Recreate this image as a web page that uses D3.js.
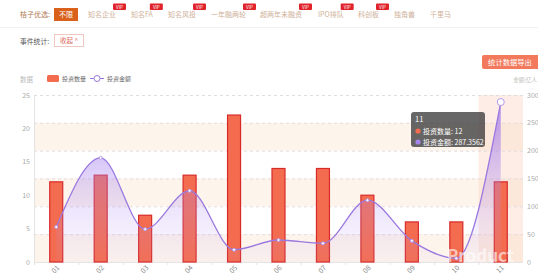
<!DOCTYPE html>
<html>
<head>
<meta charset="utf-8">
<script src="https://cdn.jsdelivr.net/npm/d3@7"></script>
<style>
  body { margin: 0; background: #fff; font-family: "Noto Sans CJK SC", "Noto Sans", sans-serif; }
  svg text { font-family: "Noto Sans CJK SC", "Noto Sans", sans-serif; }
</style>
</head>
<body>
<div id="chart"></div>
<script>
// chart data
const months = ["01", "02", "03", "04", "05", "06", "07", "08", "09", "10", "11"];
const dealCounts = [12, 13, 7, 13, 22, 14, 14, 10, 6, 6, 12];
const dealAmounts = [63, 187, 59, 128, 22, 39.5, 33.5, 111, 38, 6.6, 287.3562];
const leftTicks = [0, 5, 10, 15, 20, 25];
const rightTicks = [0, 50, 100, 150, 200, 250, 300];

// filter bar items
const navItems = ["知名企业", "知名FA", "知名风投", "一年融两轮", "超两年未融资", "IPO排队", "科创板", "独角兽", "千里马"];
const navX = [88, 131, 168, 211, 260, 318, 358, 394, 430];
const navVip = [true, true, true, true, true, true, true, false, false];

const W = 538, H = 279;
const svg = d3.select("#chart").append("svg")
    .attr("width", W)
    .attr("height", H);

// --- top filter bar ---
svg.append("text").attr("x", 20).attr("y", 17)
    .attr("font-size", 7).attr("fill", "#b07c52").text("桔子优选:");
svg.append("rect").attr("x", 54).attr("y", 8).attr("width", 24).attr("height", 13)
    .attr("fill", "#d9611c");
svg.append("text").attr("x", 66).attr("y", 17).attr("text-anchor", "middle")
    .attr("font-size", 7).attr("fill", "#fff").text("不限");

navItems.forEach((t, i) => {
    const txt = svg.append("text").attr("x", navX[i]).attr("y", 17)
        .attr("font-size", 7).attr("fill", "#cfb19a").text(t);
    if (navVip[i]) {
        const w = txt.node().getComputedTextLength();
        const bx = navX[i] + w - 3;
        svg.append("rect").attr("x", bx).attr("y", 3.5).attr("width", 13).attr("height", 6.5)
            .attr("rx", 1).attr("fill", "#e0222a");
        svg.append("text").attr("x", bx + 6.5).attr("y", 8.8).attr("text-anchor", "middle")
            .attr("font-size", 4.5).attr("fill", "#fff").text("VIP");
    }
});

svg.append("line").attr("x1", 0).attr("x2", W).attr("y1", 27.5).attr("y2", 27.5)
    .attr("stroke", "#f0f0f0");

svg.append("text").attr("x", 20).attr("y", 43.5)
    .attr("font-size", 6.8).attr("fill", "#555").text("事件统计:");
svg.append("rect").attr("x", 54.5).attr("y", 34.5).attr("width", 29).attr("height", 12)
    .attr("fill", "#fff").attr("stroke", "#f1c8c0");
svg.append("text").attr("x", 69).attr("y", 43).attr("text-anchor", "middle")
    .attr("font-size", 6.5).attr("fill", "#e0675a").text("收起 ^");

// export button
svg.append("rect").attr("x", 482).attr("y", 55).attr("width", 60).attr("height", 14)
    .attr("rx", 2).attr("fill", "#f2795c");
svg.append("text").attr("x", 510).attr("y", 64.5).attr("text-anchor", "middle")
    .attr("font-size", 7.3).attr("fill", "#fff").text("统计数据导出");

// --- chart ---
const margin = {left: 34, right: 15, top: 95, bottom: 17};
const x0 = margin.left, x1 = W - margin.right;
const yTop = margin.top, yBot = H - margin.bottom;

const x = d3.scaleBand().domain(months).range([x0, x1]);
const yL = d3.scaleLinear().domain([0, 25]).range([yBot, yTop]);
const yR = d3.scaleLinear().domain([0, 300]).range([yBot, yTop]);

// split areas (alternating bands on right axis)
for (let i = 0; i < rightTicks.length - 1; i++) {
    if (i % 2 === 0) {
        svg.append("rect")
            .attr("x", x0).attr("width", x1 - x0)
            .attr("y", yR(rightTicks[i + 1])).attr("height", yR(rightTicks[i]) - yR(rightTicks[i + 1]))
            .attr("fill", "#fdf4ec");
    }
}

// hovered category shadow
svg.append("rect")
    .attr("x", x("11")).attr("width", x.bandwidth())
    .attr("y", yTop).attr("height", yBot - yTop)
    .attr("fill", "rgba(250,215,200,0.45)");

// grid lines
svg.append("g").selectAll("line").data(rightTicks.slice(1)).enter().append("line")
    .attr("x1", x0).attr("x2", x1)
    .attr("y1", d => yR(d) + 0.5).attr("y2", d => yR(d) + 0.5)
    .attr("stroke", "#e2dcdc").attr("stroke-dasharray", "3,3");

// left axis
svg.append("line").attr("x1", x0 + 0.5).attr("x2", x0 + 0.5).attr("y1", yTop).attr("y2", yBot)
    .attr("stroke", "#e4e4e4");
svg.append("g").selectAll("text").data(leftTicks).enter().append("text")
    .attr("x", x0 - 4).attr("y", d => yL(d) + 2.5).attr("text-anchor", "end")
    .attr("font-size", 7).attr("fill", "#aaa").text(d => d);

// right axis labels
svg.append("g").selectAll("text").data(rightTicks).enter().append("text")
    .attr("x", x1 + 4).attr("y", d => yR(d) + 2.5)
    .attr("font-size", 7).attr("fill", "#aaa").text(d => d);

// axis names
svg.append("text").attr("x", 20).attr("y", 82).attr("font-size", 6.5).attr("fill", "#bbb").text("数据");
svg.append("text").attr("x", 537).attr("y", 82).attr("text-anchor", "end")
    .attr("font-size", 5.5).attr("fill", "#bbb").text("金额(亿人");

// bottom axis
svg.append("line").attr("x1", x0).attr("x2", x1).attr("y1", yBot + 0.5).attr("y2", yBot + 0.5)
    .attr("stroke", "#e4e4e4");
svg.append("g").selectAll("line").data(months).enter().append("line")
    .attr("x1", d => x(d) + 0.5).attr("x2", d => x(d) + 0.5)
    .attr("y1", yBot).attr("y2", yBot + 3).attr("stroke", "#e4e4e4");
svg.append("g").selectAll("text").data(months).enter().append("text")
    .attr("transform", d => `translate(${x(d) + x.bandwidth() / 2 + 1},${yBot + 9}) rotate(-45)`)
    .attr("text-anchor", "middle")
    .attr("font-size", 7).attr("fill", "#888").text(d => d);

// bars
const barW = 13;
svg.append("g").selectAll("rect").data(months).enter().append("rect")
    .attr("x", d => x(d) + x.bandwidth() / 2 - barW / 2)
    .attr("width", barW)
    .attr("y", (d, i) => yL(dealCounts[i]))
    .attr("height", (d, i) => yBot - yL(dealCounts[i]))
    .attr("fill", "#f36c4f")
    .attr("stroke", "#d92a2a")
    .attr("stroke-width", 1.2);

// area gradient
const defs = svg.append("defs");
const grad = defs.append("linearGradient").attr("id", "areaGrad")
    .attr("gradientUnits", "userSpaceOnUse")
    .attr("x1", 0).attr("x2", 0).attr("y1", yR(300)).attr("y2", yBot);
grad.append("stop").attr("offset", 0).attr("stop-color", "rgba(150,105,235,0.75)");
grad.append("stop").attr("offset", 0.55).attr("stop-color", "rgba(170,135,240,0.3)");
grad.append("stop").attr("offset", 1).attr("stop-color", "rgba(190,160,245,0.05)");

const pts = months.map((m, i) => [x(m) + x.bandwidth() / 2, yR(dealAmounts[i])]);

const area = d3.area().x(d => d[0]).y0(yBot).y1(d => d[1]).curve(d3.curveMonotoneX);
const line = d3.line().x(d => d[0]).y(d => d[1]).curve(d3.curveMonotoneX);

svg.append("path").datum(pts).attr("d", area).attr("fill", "url(#areaGrad)");
svg.append("path").datum(pts).attr("d", line)
    .attr("fill", "none").attr("stroke", "#9a78e0").attr("stroke-width", 1.3);

svg.append("g").selectAll("circle").data(pts).enter().append("circle")
    .attr("cx", d => d[0]).attr("cy", d => d[1])
    .attr("r", (d, i) => i === pts.length - 1 ? 3.5 : 1.5)
    .attr("fill", "#fff").attr("stroke", "#b49cec").attr("stroke-width", 1);

// watermark
svg.append("text").attr("x", 447).attr("y", 262)
    .attr("font-size", 17).attr("font-weight", "bold").attr("fill", "#fff")
    .attr("opacity", 0.6).text("Product");

// legend
svg.append("rect").attr("x", 47).attr("y", 75).attr("width", 12).attr("height", 7)
    .attr("rx", 1.5).attr("fill", "#f36c4f");
svg.append("text").attr("x", 62).attr("y", 81).attr("font-size", 6).attr("fill", "#666").text("投资数量");
svg.append("line").attr("x1", 90).attr("x2", 104).attr("y1", 78.5).attr("y2", 78.5)
    .attr("stroke", "#9a78e0").attr("stroke-width", 1);
svg.append("circle").attr("cx", 97).attr("cy", 78.5).attr("r", 3)
    .attr("fill", "#fff").attr("stroke", "#9a78e0");
svg.append("text").attr("x", 107).attr("y", 81).attr("font-size", 6).attr("fill", "#666").text("投资金额");

// tooltip
const last = months.length - 1;
const tip = svg.append("g").attr("transform", "translate(411,112)");
tip.append("rect").attr("width", 74).attr("height", 35).attr("rx", 3)
    .attr("fill", "rgba(60,60,60,0.78)");
tip.append("text").attr("x", 4).attr("y", 10).attr("font-size", 7.5).attr("fill", "#fff")
    .text(months[last]);
tip.append("circle").attr("cx", 7).attr("cy", 19).attr("r", 2.6).attr("fill", "#f36c4f");
tip.append("text").attr("x", 12).attr("y", 21.5).attr("font-size", 7).attr("fill", "#fff")
    .text("投资数量: " + dealCounts[last]);
tip.append("circle").attr("cx", 7).attr("cy", 30).attr("r", 2.6).attr("fill", "#a584ec");
tip.append("text").attr("x", 12).attr("y", 32.5).attr("font-size", 7).attr("fill", "#fff")
    .text("投资金额: " + dealAmounts[last]);
</script>
</body>
</html>
